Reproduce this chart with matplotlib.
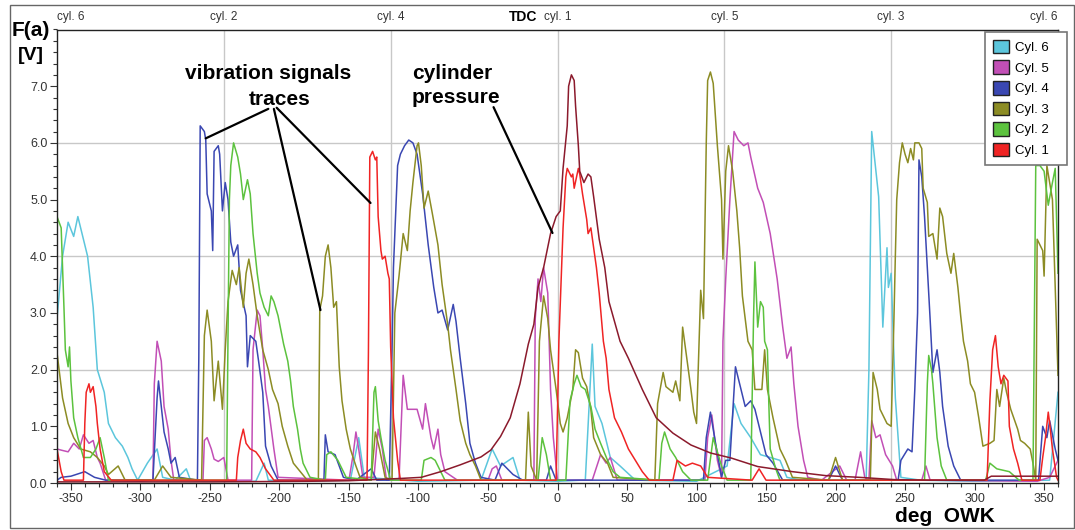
import numpy as np
import matplotlib
matplotlib.use('Agg')
import matplotlib.pyplot as plt
import matplotlib.transforms as mtransforms
from matplotlib.patches import Patch, Rectangle
from matplotlib.ticker import MultipleLocator

plt.rcParams['font.family'] = ['Liberation Sans', 'DejaVu Sans']
plt.rcParams['axes.unicode_minus'] = False

# crank angle [deg] and vibration signal [V]
ang6 = [-360, -356, -352, -348, -345, -341, -338, -334, -331, -326,
        -323, -318, -313, -309, -306, -302, -295, -288, -284, -275,
        -267, -264, -255, -217, -211, -208, -180, -149, -143, -139,
        -100, -55, -47, -41, -32, -27, 0, 17, 20, 25,
        27, 32, 38, 45, 56, 100, 122, 127, 132, 139,
        146, 160, 165, 175, 222, 224, 226, 231, 234, 237,
        238, 240, 243, 247, 261, 300, 354, 360]
cyl6 = [2.9, 4.0, 4.6, 4.35, 4.7, 4.3, 4.0, 3.1, 2.0, 1.6,
        1.05, 0.8, 0.65, 0.45, 0.25, 0.05, 0.35, 0.6, 0.1, 0.05,
        0.25, 0.05, 0.03, 0.03, 0.35, 0.05, 0.03, 0.05, 0.8, 0.1,
        0.03, 0.05, 0.6, 0.3, 0.45, 0.05, 0.03, 0.05, 0.05, 2.45,
        1.35, 1.05, 0.45, 0.3, 0.05, 0.03, 0.3, 1.4, 1.05, 0.8,
        0.5, 0.4, 0.1, 0.05, 0.05, 2.0, 6.2, 5.05, 2.75, 4.15,
        3.45, 3.7, 1.5, 0.1, 0.05, 0.03, 0.05, 1.6]

ang5 = [-360, -357, -352, -348, -344, -341, -337, -334, -331, -329,
        -325, -300, -291, -290, -288, -285, -283, -280, -278, -276,
        -255, -254, -252, -249, -247, -244, -240, -237, -220, -219,
        -216, -214, -212, -210, -208, -204, -201, -150, -147, -145,
        -143, -140, -132, -129, -126, -123, -114, -111, -108, -104,
        -101, -97, -95, -91, -89, -86, -84, -81, -72, -50,
        -47, -44, -40, -17, -16, -14, -12, -10, -7, -5,
        -3, 0, 25, 31, 35, 38, 43, 106, 108, 111,
        115, 118, 119, 121, 124, 127, 130, 134, 137, 139,
        144, 148, 153, 158, 162, 165, 168, 170, 173, 177,
        180, 190, 203, 208, 214, 218, 221, 224, 226, 229,
        232, 236, 241, 244, 262, 265, 268, 345, 354, 360]
cyl5 = [0.6, 0.58, 0.55, 0.7, 0.6, 0.85, 0.7, 0.75, 0.45, 0.35,
        0.05, 0.03, 0.05, 1.75, 2.5, 2.15, 1.35, 0.95, 0.4, 0.05,
        0.05, 0.75, 0.8, 0.6, 0.42, 0.38, 0.45, 0.05, 0.05, 2.35,
        3.05, 2.95, 2.35, 1.65, 1.35, 0.6, 0.1, 0.05, 0.5, 0.9,
        0.6, 0.1, 0.1, 0.95, 0.6, 0.05, 0.05, 1.9, 1.3, 1.3,
        1.3, 0.95, 1.4, 0.8, 0.6, 0.95, 0.5, 0.2, 0.05, 0.05,
        0.25, 0.3, 0.05, 0.05, 2.9, 3.6, 3.2, 3.8, 3.35, 1.65,
        0.8, 0.05, 0.05, 0.5, 0.35, 0.45, 0.05, 0.05, 0.8, 1.2,
        0.4, 0.1, 2.5, 3.6, 5.0, 6.2, 6.05, 5.95, 6.0, 5.75,
        5.2, 4.95, 4.4, 3.6, 2.75, 2.2, 2.4, 1.75, 1.0, 0.4,
        0.1, 0.05, 0.3, 0.05, 0.05, 0.55, 0.1, 0.05, 1.1, 0.8,
        0.85, 0.5, 0.3, 0.05, 0.05, 0.3, 0.05, 0.03, 0.1, 0.4]

ang4 = [-360, -357, -350, -340, -333, -325, -291, -288, -287, -285,
        -283, -280, -278, -275, -272, -259, -258, -257, -254, -253,
        -252, -249, -248, -247, -244, -243, -241, -239, -237, -235,
        -233, -230, -228, -224, -223, -221, -217, -215, -212, -210,
        -206, -201, -168, -167, -165, -160, -154, -145, -134, -130,
        -121, -119, -118, -115, -113, -110, -107, -104, -101, -97,
        -93, -89, -86, -83, -79, -75, -73, -70, -66, -63,
        -59, -55, -45, -40, -32, -25, -8, -5, -1, 105,
        107, 110, 113, 118, 121, 124, 128, 132, 135, 139,
        142, 146, 150, 155, 162, 195, 200, 205, 245, 247,
        252, 255, 257, 259, 260, 262, 264, 266, 268, 270,
        273, 275, 277, 281, 285, 290, 346, 349, 352, 354,
        358, 360]
cyl4 = [0.05, 0.1, 0.12, 0.2, 0.1, 0.05, 0.05, 1.5, 1.8, 1.35,
        0.9, 0.6, 0.35, 0.45, 0.1, 0.05, 2.2, 6.3, 6.2, 6.05,
        5.1, 4.8, 4.1, 5.85, 5.95, 5.8, 4.8, 5.3, 5.0, 4.25,
        4.0, 4.2, 3.4, 2.95, 2.05, 2.6, 2.5, 2.15, 1.6, 0.65,
        0.3, 0.05, 0.05, 0.85, 0.55, 0.5, 0.1, 0.05, 0.25, 0.05,
        0.05, 2.35, 3.8, 5.6, 5.8, 5.95, 6.05, 6.0, 5.8, 5.1,
        4.2, 3.45, 3.0, 3.05, 2.7, 3.15, 2.85, 2.2, 1.4, 0.7,
        0.35, 0.1, 0.05, 0.35, 0.15, 0.05, 0.05, 0.3, 0.05, 0.05,
        0.8, 1.25, 0.8, 0.1, 0.4, 0.4, 2.05, 1.65, 1.35, 1.45,
        1.3, 0.9, 0.5, 0.35, 0.05, 0.05, 0.3, 0.05, 0.05, 0.4,
        0.6, 0.55, 1.65, 3.0, 5.7, 5.4, 4.7, 3.8, 2.9, 1.95,
        2.35, 1.95, 1.35, 0.65, 0.3, 0.05, 0.05, 1.0, 0.8, 1.1,
        0.6, 0.4]

ang3 = [-360, -356, -352, -348, -343, -336, -331, -326, -323, -316,
        -311, -290, -284, -278, -256, -254, -252, -249, -247, -244,
        -241, -239, -237, -234, -231, -229, -226, -224, -222, -219,
        -216, -212, -208, -205, -201, -198, -194, -190, -185, -180,
        -172, -171, -169, -167, -165, -163, -161, -159, -157, -155,
        -152, -149, -145, -142, -134, -131, -128, -124, -119, -117,
        -114, -111, -108, -106, -104, -101, -100, -98, -96, -93,
        -90, -86, -83, -79, -77, -73, -70, -66, -63, -59,
        -55, -23, -21, -19, -15, -13, -10, -7, -5, -1,
        2, 4, 7, 11, 13, 15, 18, 21, 24, 26,
        31, 36, 40, 70, 72, 76, 78, 83, 85, 88,
        90, 93, 96, 98, 100, 103, 105, 107, 108, 110,
        112, 115, 118, 119, 121, 123, 126, 129, 131, 133,
        137, 140, 142, 147, 149, 151, 155, 160, 164, 169,
        195, 200, 205, 225, 227, 230, 232, 237, 240, 242,
        243, 244, 246, 248, 250, 252, 254, 256, 257, 260,
        262, 263, 266, 267, 270, 273, 275, 277, 280, 283,
        285, 288, 290, 292, 295, 297, 300, 303, 306, 311,
        314, 316, 318, 321, 323, 326, 331, 333, 336, 340,
        342, 344, 345, 349, 350, 352, 356, 359, 360]
cyl3 = [2.3, 1.5, 1.05, 0.8, 0.6, 0.55, 0.45, 0.3, 0.15, 0.3,
        0.05, 0.05, 0.3, 0.1, 0.05, 2.6, 3.05, 2.5, 1.45, 2.15,
        1.3, 2.35, 3.2, 3.75, 3.5, 3.8, 3.1, 3.7, 3.95, 3.5,
        2.95, 2.35, 2.0, 1.65, 1.4, 1.0, 0.65, 0.35, 0.2, 0.05,
        0.05, 3.05, 3.3, 4.0, 4.2, 3.8, 3.1, 3.2, 2.05, 1.45,
        0.95, 0.6, 0.3, 0.1, 0.05, 0.9, 0.6, 0.1, 0.05, 3.0,
        3.65, 4.4, 4.1, 4.8, 5.3, 5.95, 6.0, 5.6, 4.85, 5.15,
        4.75, 4.2, 3.5, 2.8, 2.35, 1.65, 1.1, 0.7, 0.5, 0.3,
        0.05, 0.05, 1.25, 0.3, 0.05, 2.5, 3.3, 2.9, 2.35, 1.65,
        1.05, 0.9, 1.15, 1.65, 2.35, 2.3, 1.85, 1.7, 1.3, 0.8,
        0.5, 0.35, 0.1, 0.05, 1.4, 1.95, 1.7, 1.6, 1.8, 1.45,
        2.75, 2.2, 1.65, 1.25, 1.05, 3.4, 2.9, 6.0, 7.1, 7.25,
        7.05, 5.95, 5.0, 3.95, 5.5, 5.95, 5.5, 4.8, 4.15, 3.3,
        2.5, 2.35, 1.65, 1.65, 2.35, 1.65, 1.15, 0.6, 0.4, 0.1,
        0.05, 0.45, 0.05, 0.05, 1.95, 1.65, 1.3, 1.05, 1.0, 2.9,
        4.0, 5.0, 5.65, 6.0, 5.8, 5.65, 5.9, 5.7, 6.0, 6.0,
        5.9, 5.2, 4.95, 4.35, 4.4, 3.95, 4.85, 4.7, 4.05, 3.7,
        4.05, 3.45, 2.95, 2.5, 2.15, 1.75, 1.6, 1.15, 0.65, 0.7,
        0.75, 1.65, 1.35, 1.85, 1.6, 1.3, 0.95, 0.75, 0.7, 0.6,
        0.35, 0.05, 4.3, 4.1, 3.65, 5.6, 5.0, 2.65, 1.9]

ang2 = [-360, -357, -355, -354, -352, -351, -350, -348, -345, -341,
        -336, -332, -329, -326, -323, -238, -237, -236, -235, -233,
        -230, -228, -226, -223, -221, -219, -216, -214, -211, -208,
        -206, -204, -201, -197, -194, -192, -190, -187, -185, -183,
        -178, -167, -166, -163, -158, -152, -134, -132, -131, -129,
        -127, -124, -120, -98, -96, -91, -88, -84, -81, -14,
        -11, -8, -5, 6, 9, 12, 14, 17, 20, 24,
        27, 31, 36, 40, 45, 73, 75, 77, 81, 85,
        90, 96, 108, 112, 118, 122, 139, 141, 142, 144,
        146, 148, 149, 151, 152, 153, 157, 160, 264, 266,
        267, 269, 270, 273, 276, 280, 308, 311, 316, 325,
        332, 342, 344, 347, 350, 353, 356, 358, 360]
cyl2 = [4.7, 4.5, 3.1, 2.35, 2.05, 2.4, 1.8, 1.15, 0.8, 0.45,
        0.45, 0.6, 0.8, 0.45, 0.05, 0.05, 2.6, 5.0, 5.6, 6.0,
        5.75, 5.45, 5.0, 5.35, 5.1, 4.4, 3.7, 3.35, 3.1, 2.95,
        3.3, 3.2, 2.95, 2.45, 2.15, 1.8, 1.35, 0.95, 0.6, 0.35,
        0.1, 0.05, 0.5, 0.55, 0.4, 0.1, 0.05, 1.6, 1.7, 1.1,
        0.8, 0.4, 0.05, 0.05, 0.4, 0.45, 0.4, 0.2, 0.05, 0.05,
        0.8, 0.5, 0.05, 0.05, 1.45, 1.75, 1.9, 1.7, 1.65, 1.35,
        0.95, 0.7, 0.4, 0.2, 0.1, 0.05, 0.7, 0.9, 0.6, 0.45,
        0.2, 0.05, 0.05, 0.8, 0.3, 0.05, 0.05, 2.9, 3.9, 2.75,
        3.2, 3.1, 2.5, 2.35, 1.4, 0.6, 0.25, 0.05, 0.05, 1.75,
        2.25, 2.0, 1.75, 0.8, 0.3, 0.05, 0.05, 0.35, 0.25, 0.2,
        0.05, 0.05, 5.6, 5.6, 5.5, 4.9, 5.3, 5.55, 3.7]

ang1 = [-360, -357, -355, -341, -340, -339, -337, -336, -334, -332,
        -331, -329, -326, -321, -231, -230, -228, -226, -224, -221,
        -217, -214, -210, -204, -137, -136, -135, -133, -131, -130,
        -129, -127, -126, -124, -122, -121, -120, -118, -115, -113,
        -1, 1, 4, 6, 7, 10, 11, 12, 15, 16,
        18, 21, 22, 24, 26, 28, 30, 33, 35, 37,
        41, 44, 46, 51, 56, 61, 66, 83, 86, 92,
        97, 103, 108, 140, 145, 150, 309, 311, 313, 315,
        317, 319, 321, 324, 325, 328, 331, 334, 347, 349,
        351, 353, 354, 356, 359, 360]
cyl1 = [0.6, 0.2, 0.05, 0.05, 1.05, 1.6, 1.75, 1.6, 1.7, 1.35,
        1.05, 0.6, 0.2, 0.05, 0.05, 0.45, 0.75, 0.95, 0.7, 0.6,
        0.55, 0.45, 0.25, 0.05, 0.05, 2.3, 5.75, 5.85, 5.7, 5.75,
        4.7, 4.1, 3.95, 4.0, 3.7, 3.6, 2.4, 1.15, 0.4, 0.05,
        0.05, 2.5, 4.5, 5.4, 5.55, 5.4, 5.45, 5.2, 5.55, 5.45,
        5.1, 4.65, 4.4, 4.5, 4.15, 3.8, 3.35, 2.5, 2.2, 1.65,
        1.15, 1.0, 0.9, 0.6, 0.4, 0.2, 0.05, 0.05, 0.4, 0.3,
        0.35, 0.3, 0.1, 0.05, 0.25, 0.05, 0.05, 1.45, 2.35, 2.6,
        2.05, 1.75, 1.9, 1.8, 1.0, 0.6, 0.35, 0.05, 0.05, 0.45,
        0.8, 1.25, 1.05, 0.6, 0.1, 0.05]

# cylinder pressure of cyl. 1 (same scale)
ang_p = [-360, -250, -180, -150, -113, -98, -84, -70, -55, -48,
         -41, -34, -27, -21, -17, -14, -10, -5, -1, 2,
         4, 7, 8, 10, 12, 13, 15, 16, 19, 22,
         24, 26, 30, 34, 37, 41, 45, 51, 61, 71,
         83, 96, 110, 125, 144, 169, 193, 217, 242, 267,
         307, 312, 360]
press = [0.02, 0.02, 0.03, 0.04, 0.08, 0.1, 0.2, 0.32, 0.46, 0.58,
         0.82, 1.15, 1.75, 2.45, 2.8, 3.45, 3.8, 4.4, 4.7, 4.8,
         5.55, 6.3, 7.0, 7.2, 7.1, 6.65, 5.95, 5.5, 5.3, 5.45,
         5.4, 5.05, 4.3, 3.8, 3.2, 2.85, 2.5, 2.2, 1.65, 1.15,
         0.88, 0.67, 0.53, 0.44, 0.29, 0.2, 0.13, 0.1, 0.06, 0.05,
         0.05, 0.12, 0.12]

labels = ['Cyl. 6', 'Cyl. 5', 'Cyl. 4', 'Cyl. 3', 'Cyl. 2', 'Cyl. 1']
colors = ['#5cc6dc', '#c24fb6', '#3a47b2', '#8c8c24', '#5cc23e', '#f02424']
tdc_ang = [-360, -240, -120, 0, 120, 240, 360]
tdc_lab = ['cyl. 6', 'cyl. 2', 'cyl. 4', 'cyl. 1', 'cyl. 5', 'cyl. 3', 'cyl. 6']

fig = plt.figure(figsize=(10.75, 5.30), dpi=100)
ax = fig.add_axes([57 / 1075, 47 / 530, 1001 / 1075, 453.5 / 530])

# light grid only at the TDC marks and every 2 V
for a in tdc_ang[1:-1]:
    ax.axvline(a, color='#c8c8c8', lw=1, zorder=0)
for v in [2, 4, 6]:
    ax.axhline(v, color='#c8c8c8', lw=1, zorder=0)

series = [(ang6, cyl6), (ang5, cyl5), (ang4, cyl4), (ang3, cyl3), (ang2, cyl2), (ang1, cyl1)]
for (a, v), c in zip(series, colors):
    ax.plot(a, v, color=c, lw=1.1)
ax.plot(ang_p, press, color='#8b1a2c', lw=1.1)

ax.set_xlim(-360, 360)
ax.set_ylim(0, 8)
ax.set_xticks(np.arange(-350, 351, 50))
ax.set_yticks(np.arange(0, 7.1, 1))
ax.set_yticklabels(['%.1f' % t for t in np.arange(0, 7.1, 1)])
ax.xaxis.set_minor_locator(MultipleLocator(10))
ax.yaxis.set_minor_locator(MultipleLocator(0.2))
ax.tick_params(which='major', direction='out', length=5, width=0.8, color='#333',
               labelsize=9, labelcolor='#333', pad=2)
ax.tick_params(which='minor', direction='out', length=3, width=0.8, color='#333')
for s in ax.spines.values():
    s.set_color('#222')
    s.set_linewidth(1)

# cylinder names along the top edge
trans = mtransforms.blended_transform_factory(ax.transData, ax.transAxes)
for i, (a, t) in enumerate(zip(tdc_ang, tdc_lab)):
    ha = 'left' if i == 0 else ('right' if i == len(tdc_ang) - 1 else 'center')
    ax.text(a, 1.027, t, transform=trans, ha=ha, va='center', fontsize=8.5, color='#333')
ax.text(-25, 1.027, 'TDC', transform=trans, ha='center', va='center',
        fontsize=10, fontweight='bold')

handles = [Patch(facecolor=c, edgecolor='#222', label=l + '   ') for l, c in zip(labels, colors)]
leg = ax.legend(handles=handles, loc='upper left', bbox_to_anchor=(985 / 1075, 1 - 32 / 530),
                bbox_transform=fig.transFigure, fancybox=False, framealpha=1,
                edgecolor='#777', fontsize=9.5, handlelength=1.2, handleheight=1.2,
                handletextpad=0.45, labelspacing=0.48, borderpad=0.6, borderaxespad=0)
leg.get_frame().set_linewidth(1.2)

# call-outs
ax.text(-208.5, 7.22, 'vibration signals', ha='center', va='center', fontsize=15, fontweight='bold')
ax.text(-200, 6.76, 'traces', ha='center', va='center', fontsize=15, fontweight='bold')
ax.text(-76, 7.22, 'cylinder', ha='center', va='center', fontsize=15, fontweight='bold')
ax.text(-73, 6.80, 'pressure', ha='center', va='center', fontsize=15, fontweight='bold')
line = dict(arrowstyle='-', color='k', lw=1.6, shrinkA=0, shrinkB=0)
ax.annotate('', xy=(-253, 6.08), xytext=(-208, 6.6), arrowprops=line)
ax.annotate('', xy=(-170.5, 3.05), xytext=(-204, 6.6), arrowprops=line)
ax.annotate('', xy=(-134.5, 4.94), xytext=(-202, 6.62), arrowprops=line)
ax.annotate('', xy=(-3.6, 4.41), xytext=(-46, 6.63), arrowprops=line)

fig.text(12 / 1075, 1 - 31 / 530, 'F(a)', fontsize=15, fontweight='bold', ha='left', va='center')
fig.text(31 / 1075, 1 - 56 / 530, '[V]', fontsize=14, fontweight='bold', ha='center', va='center')
fig.text(945 / 1075, 1 - 516 / 530, 'deg  OWK', fontsize=15, fontweight='bold', ha='center', va='center')

fig.add_artist(Rectangle((10 / 1075, 2 / 530), 1064 / 1075, 523 / 530, transform=fig.transFigure,
                         fill=False, edgecolor='#666', lw=1))

fig.savefig('out.png', dpi=100)
